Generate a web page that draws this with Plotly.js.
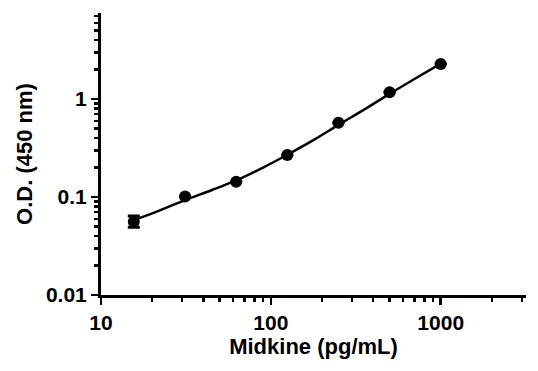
<!DOCTYPE html>
<html>
<head>
<meta charset="utf-8">
<script src="https://cdn.plot.ly/plotly-3.0.1.min.js"></script>
<style>html,body{margin:0;padding:0;background:#fff;}#chart{width:538px;height:371px;}</style>
</head>
<body>
<div id="chart"></div>
<script>
// Measured points
var conc = [15.6, 31.25, 62.5, 125, 250, 500, 1000];
var od = [0.056, 0.101, 0.143, 0.268, 0.573, 1.17, 2.28];
var errPlus = [0.008, 0, 0, 0, 0, 0, 0];
var errMinus = [0.007, 0, 0, 0, 0, 0, 0];
// Fitted curve
var curveX = [15.6, 20, 31.25, 45, 62.5, 90, 125, 180, 250, 350, 500, 700, 1000];
var curveY = [0.058, 0.068, 0.093, 0.118, 0.148, 0.200, 0.270, 0.385, 0.545, 0.77, 1.13, 1.6, 2.3];
var xTicks = [10, 100, 1000];
var xTickText = ['10', '100', '1000'];
var yTicks = [0.01, 0.1, 1];
var yTickText = ['0.01', '0.1', '1'];

var fam = 'Liberation Sans, Arial, sans-serif';
function bold(a) { return a.map(function (s) { return '<b>' + s + '</b>'; }); }

var traces = [
  {x: curveX, y: curveY, mode: 'lines', line: {color: '#000', width: 2.5, shape: 'spline'}, hoverinfo: 'skip'},
  {x: conc, y: od, mode: 'markers', marker: {color: '#000', size: 12, symbol: 'circle'},
   error_y: {type: 'data', symmetric: false, array: errPlus, arrayminus: errMinus, color: '#000', thickness: 3, width: 6}}
];

var layout = {
  width: 538, height: 371,
  margin: {l: 101, r: 12, t: 13, b: 76},
  paper_bgcolor: '#fff', plot_bgcolor: '#fff',
  showlegend: false,
  font: {family: fam, size: 22, color: '#000'},
  xaxis: {
    type: 'log', range: [1, 3.502],
    showgrid: false, zeroline: false,
    showline: true, linecolor: '#000', linewidth: 3,
    ticks: 'outside', ticklen: 7, tickwidth: 2.5, tickcolor: '#000',
    tickvals: xTicks, ticktext: bold(xTickText),
    tickfont: {family: fam, size: 21, color: '#000'},
    minor: {ticks: 'outside', ticklen: 4, tickwidth: 2.5, tickcolor: '#000', dtick: 'D1', showgrid: false},
    title: {text: '<b>Midkine (pg/mL)</b>', font: {family: fam, size: 22, color: '#000'}, standoff: 6}
  },
  yaxis: {
    type: 'log', range: [-2, 0.878],
    showgrid: false, zeroline: false,
    showline: true, linecolor: '#000', linewidth: 3,
    ticks: 'outside', ticklen: 7, tickwidth: 2.5, tickcolor: '#000',
    tickvals: yTicks, ticktext: bold(yTickText),
    tickfont: {family: fam, size: 21, color: '#000'},
    minor: {ticks: 'outside', ticklen: 4, tickwidth: 2.5, tickcolor: '#000', dtick: 'D1', showgrid: false},
    title: {text: '<b>O.D. (450 nm)</b>', font: {family: fam, size: 22, color: '#000'}, standoff: 8}
  }
};

Plotly.newPlot('chart', traces, layout, {displayModeBar: false, staticPlot: true});
</script>
</body>
</html>
